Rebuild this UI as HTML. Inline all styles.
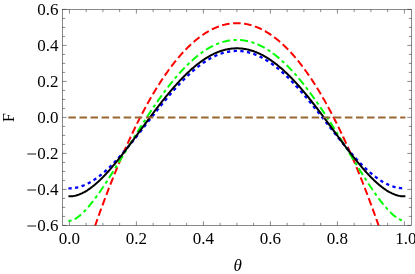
<!DOCTYPE html>
<html><head><meta charset="utf-8"><title>plot</title>
<style>html,body{margin:0;padding:0;background:#fff;}body{width:415px;height:274px;position:relative;overflow:hidden;font-family:"Liberation Serif",serif;}</style>
</head><body>
<svg width="415" height="274" viewBox="0 0 415 274" style="position:absolute;left:0;top:0">
<defs><filter id="tb" x="-5%" y="-5%" width="110%" height="110%"><feGaussianBlur stdDeviation="0.30"/></filter><filter id="lb" x="-5%" y="-5%" width="110%" height="110%"><feGaussianBlur stdDeviation="0.30"/></filter></defs>
<defs><clipPath id="c"><rect x="62.45" y="9.40" width="349.05" height="216.10"/></clipPath></defs>
<g filter="url(#lb)"><g clip-path="url(#c)" fill="none">
<path d="M94.94,226.24 L95.02,226.01 L95.87,223.61 L96.71,221.22 L97.47,219.07 M98.65,215.77 L98.73,215.55 L99.57,213.21 L100.41,210.88 L101.24,208.63 M102.44,205.34 L102.52,205.13 L103.36,202.86 L104.21,200.60 L105.05,198.35 L105.10,198.22 M106.34,194.95 L106.40,194.79 L107.24,192.58 L108.08,190.38 L108.92,188.20 L109.06,187.85 M110.33,184.59 L110.36,184.53 L111.20,182.39 L112.04,180.26 L112.88,178.15 L113.13,177.53 M114.44,174.28 L114.48,174.17 L115.33,172.10 L116.17,170.04 L117.01,168.00 L117.32,167.25 M118.67,164.02 L118.70,163.96 L119.54,161.96 L120.38,159.97 L121.22,158.00 L121.64,157.02 M123.03,153.81 L123.08,153.71 L123.92,151.79 L124.76,149.88 L125.61,147.98 L126.11,146.86 M127.54,143.67 L127.63,143.48 L128.47,141.64 L129.31,139.80 L130.16,137.98 L130.72,136.77 M132.21,133.60 L132.26,133.50 L133.10,131.73 L133.95,129.97 L134.79,128.23 L135.51,126.75 M137.06,123.61 L137.06,123.60 L137.91,121.91 L138.75,120.24 L139.59,118.58 L140.43,116.93 L140.49,116.83 M142.10,113.72 L142.12,113.69 L142.96,112.08 L143.80,110.50 L144.65,108.92 L145.49,107.36 L145.68,107.02 M147.36,103.95 L147.43,103.83 L148.27,102.32 L149.11,100.82 L149.95,99.34 L150.80,97.87 L151.10,97.34 M152.87,94.31 L152.90,94.26 L153.75,92.84 L154.59,91.43 L155.43,90.04 L156.27,88.67 L156.80,87.81 M158.66,84.84 L158.72,84.75 L159.56,83.43 L160.40,82.13 L161.24,80.84 L162.09,79.56 L162.81,78.48 M164.77,75.58 L164.78,75.57 L165.62,74.35 L166.47,73.15 L167.31,71.96 L168.15,70.78 L168.99,69.62 L169.17,69.38 M171.26,66.57 L171.27,66.56 L172.11,65.45 L172.95,64.36 L173.80,63.28 L174.64,62.22 L175.48,61.17 L175.95,60.59 M178.18,57.90 L178.26,57.80 L179.10,56.82 L179.95,55.84 L180.79,54.88 L181.63,53.94 L182.47,53.00 L183.21,52.20 M185.61,49.66 L185.68,49.60 L186.52,48.73 L187.36,47.88 L188.20,47.05 L189.05,46.23 L189.89,45.42 L190.73,44.63 L191.04,44.34 M193.65,42.00 L193.68,41.98 L194.52,41.25 L195.36,40.54 L196.21,39.84 L197.05,39.16 L197.89,38.49 L198.73,37.83 L199.55,37.21 M202.38,35.16 L202.44,35.12 L203.28,34.54 L204.13,33.98 L204.97,33.43 L205.81,32.89 L206.65,32.37 L207.50,31.86 L208.34,31.37 L208.81,31.11 M211.89,29.46 L211.96,29.42 L212.80,29.00 L213.65,28.60 L214.49,28.21 L215.33,27.84 L216.17,27.48 L217.02,27.14 L217.86,26.81 L218.70,26.49 L218.86,26.43 M222.18,25.34 L222.24,25.32 L223.08,25.08 L223.93,24.85 L224.77,24.64 L225.61,24.44 L226.45,24.25 L227.30,24.08 L228.14,23.93 L228.98,23.78 L229.60,23.69 M233.07,23.30 L233.11,23.30 L233.95,23.24 L234.79,23.20 L235.64,23.17 L236.48,23.15 L237.32,23.15 L238.16,23.17 L239.01,23.20 L239.85,23.24 L240.67,23.30 M244.14,23.68 L244.15,23.68 L244.99,23.81 L245.83,23.96 L246.67,24.11 L247.52,24.29 L248.36,24.48 L249.20,24.68 L250.04,24.89 L250.89,25.12 L251.56,25.32 M254.88,26.41 L254.93,26.43 L255.77,26.74 L256.61,27.07 L257.46,27.41 L258.30,27.77 L259.14,28.14 L259.98,28.52 L260.83,28.92 L261.67,29.34 L261.85,29.43 M264.94,31.08 L264.96,31.08 L265.80,31.57 L266.64,32.07 L267.48,32.58 L268.33,33.10 L269.17,33.65 L270.01,34.20 L270.85,34.77 L271.37,35.13 M274.21,37.18 L274.22,37.19 L275.07,37.83 L275.91,38.49 L276.75,39.16 L277.59,39.84 L278.44,40.54 L279.28,41.25 L280.11,41.96 M282.71,44.30 L282.73,44.32 L283.57,45.11 L284.42,45.91 L285.26,46.72 L286.10,47.55 L286.94,48.39 L287.79,49.25 L288.14,49.62 M290.55,52.16 L290.57,52.18 L291.41,53.10 L292.25,54.03 L293.09,54.98 L293.94,55.94 L294.78,56.91 L295.58,57.85 M297.81,60.55 L297.90,60.65 L298.74,61.69 L299.58,62.75 L300.42,63.82 L301.27,64.91 L302.11,66.01 L302.50,66.53 M304.59,69.33 L304.64,69.39 L305.48,70.55 L306.32,71.72 L307.16,72.91 L308.01,74.11 L308.85,75.32 L308.99,75.53 M310.96,78.43 L311.04,78.55 L311.88,79.81 L312.72,81.09 L313.57,82.39 L314.41,83.70 L315.11,84.79 M316.97,87.76 L317.02,87.85 L317.86,89.21 L318.71,90.60 L319.55,91.99 L320.39,93.40 L320.90,94.26 M322.67,97.28 L322.75,97.43 L323.59,98.89 L324.44,100.37 L325.28,101.87 L326.12,103.37 L326.41,103.90 M328.10,106.97 L328.14,107.05 L328.99,108.61 L329.83,110.18 L330.67,111.76 L331.51,113.36 L331.67,113.67 M333.29,116.78 L333.37,116.93 L334.21,118.58 L335.05,120.24 L335.89,121.91 L336.72,123.56 M338.26,126.70 L338.34,126.85 L339.18,128.58 L340.02,130.32 L340.86,132.08 L341.56,133.54 M343.05,136.71 L343.05,136.72 L343.90,138.53 L344.74,140.35 L345.58,142.19 L346.23,143.61 M347.67,146.81 L347.69,146.85 L348.53,148.74 L349.37,150.64 L350.22,152.56 L350.74,153.76 M352.13,156.97 L352.15,157.02 L353.00,158.98 L353.84,160.96 L354.68,162.96 L355.11,163.96 M356.45,167.19 L356.53,167.39 L357.38,169.43 L358.22,171.48 L359.06,173.55 L359.34,174.23 M360.65,177.47 L360.66,177.52 L361.51,179.63 L362.35,181.75 L363.19,183.89 L363.45,184.54 M364.72,187.80 L364.79,187.99 L365.63,190.16 L366.48,192.36 L367.32,194.57 L367.44,194.89 M368.68,198.17 L368.75,198.35 L369.59,200.60 L370.44,202.86 L371.28,205.13 L371.34,205.29 M372.54,208.57 L372.63,208.80 L373.47,211.11 L374.31,213.44 L375.13,215.72 M376.31,219.01 L376.33,219.08 L377.18,221.46 L378.02,223.85 L378.84,226.18" stroke="#ff0000" stroke-width="2.00"/>
<path d="M68.40,220.63 L68.48,220.64 L69.33,220.71 L70.17,220.66 L71.01,220.51 L71.56,220.38 M74.70,219.09 L74.72,219.08 L75.56,218.61 L76.40,218.09 L77.25,217.53 L78.09,216.93 L78.93,216.28 L79.77,215.61 L80.62,214.89 L81.17,214.41 M83.63,212.07 L83.65,212.05 L84.49,211.20 L85.33,210.31 L85.85,209.76 M88.11,207.22 L88.11,207.22 L88.96,206.23 L89.80,205.22 L90.64,204.19 L91.48,203.14 L92.33,202.07 L93.15,201.01 M95.20,198.30 L95.28,198.19 L96.12,197.05 L96.96,195.89 L97.09,195.71 M99.06,192.94 L99.07,192.92 L99.91,191.72 L100.75,190.50 L101.59,189.26 L102.44,188.02 L103.28,186.77 L103.57,186.33 M105.44,183.50 L105.47,183.46 L106.31,182.17 L107.16,180.88 L107.19,180.82 M109.03,177.96 L109.09,177.86 L109.94,176.54 L110.78,175.22 L111.62,173.88 L112.46,172.55 L113.31,171.20 L113.31,171.20 M115.11,168.31 L115.16,168.23 L116.00,166.87 L116.79,165.59 M118.58,162.70 L118.61,162.64 L119.46,161.27 L120.30,159.90 L121.14,158.53 L121.98,157.15 L122.76,155.88 M124.53,152.98 L124.59,152.88 L125.44,151.50 L126.20,150.25 M127.98,147.35 L128.05,147.23 L128.89,145.86 L129.73,144.48 L130.58,143.11 L131.42,141.74 L132.16,140.53 M133.95,137.64 L133.95,137.63 L134.79,136.27 L135.63,134.91 M137.43,132.03 L137.49,131.93 L138.33,130.59 L139.17,129.24 L140.01,127.90 L140.86,126.57 L141.69,125.26 M143.51,122.39 L143.55,122.33 L144.39,121.01 L145.24,119.70 L145.24,119.70 M147.09,116.84 L147.17,116.72 L148.02,115.43 L148.86,114.14 L149.70,112.87 L150.54,111.60 L151.39,110.33 L151.50,110.17 M153.40,107.35 L153.41,107.33 L154.25,106.10 L155.09,104.87 L155.20,104.70 M157.14,101.91 L157.20,101.82 L158.04,100.62 L158.88,99.43 L159.73,98.24 L160.57,97.07 L161.41,95.90 L161.78,95.39 M163.79,92.65 L163.86,92.56 L164.70,91.43 L165.54,90.31 L165.71,90.09 M167.77,87.39 L167.81,87.33 L168.66,86.24 L169.50,85.17 L170.34,84.10 L171.19,83.05 L172.03,82.00 L172.74,81.12 M174.91,78.50 L174.98,78.43 L175.82,77.43 L176.66,76.45 L176.99,76.07 M179.23,73.51 L179.27,73.47 L180.12,72.53 L180.96,71.60 L181.80,70.69 L182.64,69.79 L183.49,68.90 L184.33,68.02 L184.68,67.65 M187.07,65.24 L187.11,65.20 L187.95,64.38 L188.79,63.57 L189.37,63.01 M191.87,60.71 L191.91,60.67 L192.75,59.91 L193.60,59.17 L194.44,58.45 L195.28,57.73 L196.12,57.03 L196.97,56.34 L197.81,55.67 L197.97,55.54 M200.68,53.47 L200.76,53.42 L201.60,52.80 L202.44,52.20 L203.28,51.62 M206.12,49.75 L206.15,49.73 L206.99,49.20 L207.83,48.69 L208.68,48.19 L209.52,47.71 L210.36,47.24 L211.20,46.79 L212.05,46.35 L212.89,45.92 L213.09,45.82 M216.17,44.40 L216.26,44.36 L217.10,44.01 L217.94,43.67 L218.79,43.34 L219.15,43.21 M222.37,42.13 L222.41,42.11 L223.25,41.87 L224.09,41.63 L224.94,41.42 L225.78,41.21 L226.62,41.02 L227.46,40.85 L228.31,40.69 L229.15,40.55 L229.99,40.42 L230.17,40.39 M233.55,40.04 L233.61,40.03 L234.46,39.98 L235.30,39.94 L236.14,39.92 L236.75,39.92 M240.14,40.03 L240.19,40.03 L241.03,40.10 L241.87,40.18 L242.71,40.27 L243.56,40.38 L244.40,40.51 L245.24,40.65 L246.08,40.80 L246.93,40.97 L247.77,41.15 L248.05,41.22 M251.33,42.10 L251.39,42.11 L252.23,42.38 L253.08,42.65 L253.92,42.94 L254.37,43.10 M257.53,44.36 L257.54,44.36 L258.38,44.73 L259.23,45.11 L260.07,45.51 L260.91,45.92 L261.75,46.35 L262.60,46.79 L263.44,47.24 L264.28,47.71 L264.68,47.94 M267.59,49.69 L267.65,49.73 L268.49,50.27 L269.34,50.82 L270.18,51.39 L270.27,51.44 M273.04,53.41 L273.04,53.42 L273.89,54.04 L274.73,54.68 L275.57,55.34 L276.41,56.00 L277.26,56.69 L278.10,57.38 L278.94,58.09 L279.30,58.39 M281.85,60.63 L281.89,60.67 L282.73,61.43 L283.57,62.21 L284.21,62.80 M286.65,65.16 L286.69,65.20 L287.53,66.04 L288.38,66.89 L289.22,67.76 L290.06,68.63 L290.90,69.52 L291.75,70.42 L292.21,70.92 M294.50,73.43 L294.53,73.47 L295.37,74.42 L296.21,75.38 L296.61,75.84 M298.82,78.42 L298.82,78.43 L299.67,79.44 L300.51,80.45 L301.35,81.48 L302.19,82.52 L303.04,83.57 L303.87,84.62 M305.96,87.30 L305.98,87.33 L306.83,88.42 L307.67,89.53 L307.91,89.84 M309.95,92.57 L310.03,92.68 L310.87,93.82 L311.71,94.97 L312.56,96.13 L313.40,97.30 L314.24,98.48 L314.64,99.04 M316.60,101.82 L316.60,101.82 L317.44,103.04 L318.29,104.25 L318.42,104.45 M320.34,107.26 L320.39,107.33 L321.23,108.58 L322.08,109.83 L322.92,111.09 L323.76,112.36 L324.60,113.63 L324.79,113.91 M326.65,116.75 L326.71,116.84 L327.55,118.14 L328.39,119.44 M330.23,122.30 L330.25,122.33 L331.09,123.65 L331.93,124.97 L332.78,126.30 L333.62,127.63 L334.46,128.97 L334.51,129.06 M336.32,131.94 L336.40,132.07 L337.24,133.42 L338.01,134.65 M339.80,137.54 L339.85,137.63 L340.70,139.00 L341.54,140.37 L342.38,141.74 L343.22,143.11 L343.99,144.36 M345.77,147.26 L345.84,147.37 L346.68,148.75 L347.44,149.99 M349.21,152.89 L349.29,153.02 L350.13,154.40 L350.97,155.77 L351.82,157.15 L352.66,158.53 L353.39,159.71 M355.17,162.61 L355.19,162.64 L356.03,164.01 L356.85,165.33 M358.64,168.22 L358.64,168.23 L359.48,169.58 L360.33,170.93 L361.17,172.28 L362.01,173.62 L362.85,174.95 L362.89,175.00 M364.71,177.87 L364.79,178.00 L365.63,179.31 L366.44,180.56 M368.30,183.41 L368.33,183.46 L369.17,184.74 L370.01,186.01 L370.86,187.27 L371.70,188.52 L372.54,189.76 L372.75,190.06 M374.68,192.85 L374.73,192.92 L375.58,194.12 L376.42,195.30 L376.53,195.46 M378.54,198.21 L378.61,198.31 L379.45,199.44 L380.29,200.55 L381.14,201.64 L381.98,202.72 L382.82,203.78 L383.44,204.53 M385.62,207.14 L385.69,207.22 L386.53,208.19 L387.37,209.13 L387.74,209.53 M390.09,211.99 L390.15,212.05 L390.99,212.88 L391.84,213.68 L392.68,214.45 L393.52,215.18 L394.36,215.88 L395.21,216.55 L396.05,217.17 L396.13,217.23 M399.00,219.04 L399.08,219.08 L399.92,219.50 L400.77,219.87 L401.61,220.19 L401.94,220.29" stroke="#00ff00" stroke-width="2.00"/>
<path d="M68.40,188.30 L68.48,188.31 L69.33,188.32 L70.17,188.31 L71.01,188.28 L71.70,188.24 M75.07,187.85 L75.14,187.84 L75.98,187.69 L76.83,187.52 L77.67,187.34 L78.30,187.18 M81.56,186.21 L81.63,186.18 L82.47,185.88 L83.31,185.56 L84.15,185.23 L84.64,185.02 M87.72,183.59 L87.78,183.56 L88.62,183.13 L89.46,182.67 L90.31,182.20 L90.62,182.02 M93.53,180.24 L93.59,180.20 L94.43,179.65 L95.28,179.08 L96.12,178.49 L96.26,178.40 M98.99,176.38 L99.07,176.32 L99.91,175.66 L100.75,174.99 L101.58,174.32 M104.17,172.13 L104.21,172.10 L105.05,171.36 L105.89,170.60 L106.63,169.93 M109.11,167.60 L109.18,167.54 L110.02,166.72 L110.86,165.89 L111.47,165.29 M113.85,162.87 L113.90,162.82 L114.74,161.94 L115.58,161.06 L116.13,160.48 M118.43,157.98 L118.44,157.96 L119.29,157.03 L120.13,156.09 L120.64,155.52 M122.88,152.97 L122.91,152.93 L123.75,151.96 L124.59,150.98 L125.03,150.47 M127.23,147.87 L127.29,147.80 L128.13,146.79 L128.98,145.77 L129.34,145.33 M131.50,142.70 L131.50,142.70 L132.35,141.66 L133.19,140.62 L133.57,140.14 M135.70,137.49 L135.72,137.48 L136.56,136.42 L137.40,135.36 L137.76,134.91 M139.87,132.24 L139.93,132.17 L140.77,131.10 L141.61,130.03 L141.91,129.65 M144.01,126.98 L144.06,126.92 L144.90,125.84 L145.74,124.77 L146.05,124.38 M148.14,121.70 L148.18,121.65 L149.03,120.57 L149.87,119.50 L150.18,119.10 M152.28,116.43 L152.31,116.39 L153.16,115.32 L154.00,114.25 L154.32,113.84 M156.43,111.17 L156.44,111.16 L157.28,110.11 L158.13,109.05 L158.49,108.60 M160.62,105.95 L160.65,105.91 L161.50,104.87 L162.34,103.83 L162.70,103.39 M164.86,100.76 L164.87,100.75 L165.71,99.74 L166.55,98.73 L166.97,98.22 M169.17,95.63 L169.25,95.53 L170.09,94.55 L170.93,93.57 L171.32,93.12 M173.56,90.56 L173.63,90.48 L174.47,89.53 L175.31,88.59 L175.75,88.10 M178.05,85.59 L178.09,85.54 L178.94,84.63 L179.78,83.73 L180.30,83.18 M182.66,80.73 L182.73,80.66 L183.57,79.81 L184.41,78.96 L184.98,78.39 M187.42,76.02 L187.45,75.99 L188.29,75.19 L189.13,74.40 L189.83,73.76 M192.35,71.48 L192.42,71.43 L193.26,70.69 L194.10,69.97 L194.85,69.33 M197.48,67.18 L197.56,67.12 L198.40,66.46 L199.24,65.81 L200.08,65.17 L200.10,65.16 M202.85,63.16 L202.86,63.15 L203.71,62.57 L204.55,62.00 L205.39,61.44 L205.58,61.32 M208.47,59.52 L208.51,59.50 L209.35,59.01 L210.19,58.53 L211.04,58.06 L211.34,57.90 M214.37,56.36 L214.41,56.34 L215.25,55.95 L216.09,55.57 L216.93,55.20 L217.38,55.01 M220.56,53.79 L220.64,53.77 L221.48,53.48 L222.32,53.21 L223.17,52.95 L223.70,52.80 M227.00,51.97 L227.04,51.97 L227.89,51.79 L228.73,51.64 L229.57,51.50 L230.25,51.39 M233.63,51.03 L233.70,51.03 L234.54,50.98 L235.38,50.94 L236.23,50.92 L236.93,50.92 M240.32,51.04 L240.35,51.04 L241.20,51.12 L242.04,51.20 L242.88,51.30 L243.60,51.40 M246.95,52.01 L247.01,52.02 L247.85,52.21 L248.69,52.42 L249.54,52.64 L250.15,52.81 M253.39,53.85 L253.41,53.85 L254.26,54.16 L255.10,54.48 L255.94,54.81 L256.47,55.03 M259.57,56.42 L259.65,56.46 L260.49,56.87 L261.33,57.30 L262.17,57.74 L262.51,57.92 M265.46,59.60 L265.54,59.65 L266.39,60.16 L267.23,60.69 L268.07,61.22 L268.26,61.35 M271.08,63.25 L271.11,63.27 L271.95,63.87 L272.79,64.48 L273.63,65.11 L273.75,65.19 M276.44,67.27 L276.50,67.32 L277.34,68.00 L278.18,68.69 L278.99,69.37 M281.56,71.59 L281.64,71.65 L282.48,72.40 L283.32,73.16 L284.02,73.80 M286.49,76.12 L286.52,76.15 L287.37,76.97 L288.21,77.79 L288.86,78.43 M291.25,80.84 L291.33,80.92 L292.17,81.79 L293.01,82.67 L293.54,83.22 M295.86,85.70 L295.87,85.72 L296.72,86.64 L297.56,87.56 L298.08,88.14 M300.35,90.68 L300.42,90.77 L301.27,91.73 L302.11,92.69 L302.52,93.16 M304.73,95.74 L304.81,95.83 L305.65,96.82 L306.49,97.82 L306.86,98.27 M309.04,100.88 L309.10,100.96 L309.94,101.98 L310.79,103.01 L311.13,103.43 M313.28,106.07 L313.31,106.12 L314.16,107.16 L315.00,108.21 L315.34,108.64 M317.46,111.30 L317.53,111.38 L318.37,112.44 L319.21,113.50 L319.51,113.88 M321.62,116.55 L321.66,116.60 L322.50,117.67 L323.34,118.74 L323.66,119.15 M325.75,121.82 L325.78,121.86 L326.63,122.94 L327.47,124.01 L327.79,124.42 M329.89,127.10 L329.91,127.13 L330.75,128.21 L331.60,129.28 L331.92,129.69 M334.03,132.37 L334.04,132.38 L334.88,133.45 L335.73,134.51 L336.08,134.95 M338.19,137.61 L338.25,137.69 L339.10,138.74 L339.94,139.79 L340.26,140.19 M342.40,142.83 L342.47,142.90 L343.31,143.93 L344.15,144.96 L344.50,145.38 M346.67,147.99 L346.68,148.00 L347.52,149.00 L348.36,149.99 L348.80,150.51 M351.02,153.09 L351.06,153.13 L351.90,154.09 L352.74,155.05 L353.20,155.56 M355.47,158.09 L355.52,158.15 L356.37,159.07 L357.21,159.98 L357.71,160.52 M360.06,162.98 L360.07,163.00 L360.92,163.86 L361.76,164.72 L362.37,165.33 M364.80,167.71 L364.88,167.78 L365.72,168.58 L366.56,169.37 L367.21,169.97 M369.74,172.23 L369.76,172.25 L370.60,172.97 L371.45,173.68 L372.27,174.36 M374.93,176.47 L374.99,176.51 L375.83,177.15 L376.67,177.77 L377.51,178.37 L377.59,178.43 M380.41,180.33 L380.46,180.37 L381.30,180.90 L382.15,181.41 L382.99,181.91 L383.22,182.05 M386.22,183.66 L386.28,183.69 L387.12,184.10 L387.96,184.49 L388.80,184.87 L389.21,185.04 M392.39,186.26 L392.43,186.27 L393.27,186.55 L394.11,186.80 L394.95,187.04 L395.55,187.19 M398.88,187.88 L398.91,187.88 L399.76,188.01 L400.60,188.11 L401.44,188.19 L402.16,188.24" stroke="#0000ff" stroke-width="2.30"/>
<path d="M68.40,196.34 L69.24,196.36 L70.09,196.35 L70.93,196.31 L71.77,196.24 L72.61,196.14 L73.45,196.02 L74.30,195.87 L75.14,195.69 L75.98,195.48 L76.83,195.24 L77.67,194.98 L78.51,194.70 L79.35,194.39 L80.20,194.05 L81.04,193.69 L81.88,193.31 L82.72,192.90 L83.56,192.47 L84.41,192.02 L85.25,191.54 L86.09,191.05 L86.94,190.53 L87.78,189.99 L88.62,189.43 L89.46,188.85 L90.31,188.25 L91.15,187.63 L91.99,186.99 L92.83,186.33 L93.67,185.66 L94.52,184.96 L95.36,184.25 L96.20,183.52 L97.05,182.78 L97.89,182.02 L98.73,181.24 L99.57,180.45 L100.41,179.64 L101.26,178.82 L102.10,177.98 L102.94,177.13 L103.78,176.26 L104.63,175.38 L105.47,174.49 L106.31,173.59 L107.16,172.67 L108.00,171.74 L108.84,170.80 L109.68,169.85 L110.53,168.89 L111.37,167.91 L112.21,166.93 L113.05,165.94 L113.90,164.93 L114.74,163.92 L115.58,162.90 L116.42,161.87 L117.26,160.83 L118.11,159.79 L118.95,158.73 L119.79,157.67 L120.63,156.60 L121.48,155.53 L122.32,154.45 L123.16,153.36 L124.00,152.27 L124.85,151.17 L125.69,150.07 L126.53,148.96 L127.38,147.84 L128.22,146.73 L129.06,145.61 L129.90,144.48 L130.75,143.35 L131.59,142.22 L132.43,141.09 L133.27,139.95 L134.12,138.81 L134.96,137.67 L135.80,136.53 L136.64,135.39 L137.49,134.24 L138.33,133.10 L139.17,131.95 L140.01,130.81 L140.85,129.66 L141.70,128.51 L142.54,127.37 L143.38,126.22 L144.22,125.08 L145.07,123.94 L145.91,122.79 L146.75,121.65 L147.59,120.52 L148.44,119.38 L149.28,118.25 L150.12,117.12 L150.96,115.99 L151.81,114.87 L152.65,113.75 L153.49,112.63 L154.34,111.51 L155.18,110.41 L156.02,109.30 L156.86,108.20 L157.70,107.10 L158.55,106.01 L159.39,104.93 L160.23,103.85 L161.07,102.77 L161.92,101.70 L162.76,100.64 L163.60,99.58 L164.44,98.53 L165.29,97.49 L166.13,96.45 L166.97,95.42 L167.81,94.40 L168.66,93.38 L169.50,92.37 L170.34,91.37 L171.19,90.38 L172.03,89.40 L172.87,88.42 L173.71,87.45 L174.56,86.49 L175.40,85.54 L176.24,84.60 L177.08,83.67 L177.93,82.74 L178.77,81.83 L179.61,80.92 L180.45,80.03 L181.30,79.14 L182.14,78.27 L182.98,77.41 L183.82,76.55 L184.67,75.71 L185.51,74.87 L186.35,74.05 L187.19,73.24 L188.03,72.44 L188.88,71.65 L189.72,70.87 L190.56,70.11 L191.40,69.35 L192.25,68.61 L193.09,67.88 L193.93,67.16 L194.77,66.45 L195.62,65.75 L196.46,65.07 L197.30,64.40 L198.15,63.74 L198.99,63.09 L199.83,62.46 L200.67,61.84 L201.51,61.23 L202.36,60.64 L203.20,60.06 L204.04,59.49 L204.88,58.93 L205.73,58.39 L206.57,57.86 L207.41,57.35 L208.25,56.85 L209.10,56.36 L209.94,55.88 L210.78,55.42 L211.62,54.98 L212.47,54.55 L213.31,54.13 L214.15,53.72 L214.99,53.33 L215.84,52.96 L216.68,52.60 L217.52,52.25 L218.36,51.92 L219.21,51.60 L220.05,51.29 L220.89,51.00 L221.73,50.73 L222.58,50.47 L223.42,50.22 L224.26,49.99 L225.10,49.78 L225.95,49.58 L226.79,49.39 L227.63,49.22 L228.47,49.06 L229.32,48.92 L230.16,48.79 L231.00,48.68 L231.84,48.58 L232.69,48.50 L233.53,48.43 L234.37,48.38 L235.21,48.34 L236.06,48.32 L236.90,48.31 L237.74,48.32 L238.58,48.34 L239.43,48.38 L240.27,48.43 L241.11,48.50 L241.95,48.58 L242.80,48.68 L243.64,48.79 L244.48,48.92 L245.32,49.06 L246.17,49.22 L247.01,49.39 L247.85,49.58 L248.69,49.78 L249.54,49.99 L250.38,50.22 L251.22,50.47 L252.06,50.73 L252.91,51.00 L253.75,51.29 L254.59,51.60 L255.43,51.92 L256.28,52.25 L257.12,52.60 L257.96,52.96 L258.80,53.33 L259.65,53.72 L260.49,54.13 L261.33,54.55 L262.17,54.98 L263.02,55.42 L263.86,55.88 L264.70,56.36 L265.54,56.85 L266.39,57.35 L267.23,57.86 L268.07,58.39 L268.91,58.93 L269.76,59.49 L270.60,60.06 L271.44,60.64 L272.28,61.23 L273.13,61.84 L273.97,62.46 L274.81,63.09 L275.65,63.74 L276.50,64.40 L277.34,65.07 L278.18,65.75 L279.02,66.45 L279.87,67.16 L280.71,67.88 L281.55,68.61 L282.39,69.35 L283.24,70.11 L284.08,70.87 L284.92,71.65 L285.76,72.44 L286.61,73.24 L287.45,74.05 L288.29,74.87 L289.13,75.71 L289.98,76.55 L290.82,77.41 L291.66,78.27 L292.50,79.14 L293.35,80.03 L294.19,80.92 L295.03,81.83 L295.87,82.74 L296.72,83.67 L297.56,84.60 L298.40,85.54 L299.24,86.49 L300.09,87.45 L300.93,88.42 L301.77,89.40 L302.61,90.38 L303.46,91.37 L304.30,92.37 L305.14,93.38 L305.98,94.40 L306.83,95.42 L307.67,96.45 L308.51,97.49 L309.35,98.53 L310.20,99.58 L311.04,100.64 L311.88,101.70 L312.72,102.77 L313.57,103.85 L314.41,104.93 L315.25,106.01 L316.09,107.10 L316.94,108.20 L317.78,109.30 L318.62,110.41 L319.46,111.51 L320.31,112.63 L321.15,113.75 L321.99,114.87 L322.83,115.99 L323.68,117.12 L324.52,118.25 L325.36,119.38 L326.20,120.52 L327.05,121.65 L327.89,122.79 L328.73,123.94 L329.57,125.08 L330.42,126.22 L331.26,127.37 L332.10,128.51 L332.94,129.66 L333.79,130.81 L334.63,131.95 L335.47,133.10 L336.31,134.24 L337.16,135.39 L338.00,136.53 L338.84,137.67 L339.68,138.81 L340.53,139.95 L341.37,141.09 L342.21,142.22 L343.05,143.35 L343.90,144.48 L344.74,145.61 L345.58,146.73 L346.42,147.84 L347.27,148.96 L348.11,150.07 L348.95,151.17 L349.79,152.27 L350.64,153.36 L351.48,154.45 L352.32,155.53 L353.16,156.60 L354.01,157.67 L354.85,158.73 L355.69,159.79 L356.53,160.83 L357.38,161.87 L358.22,162.90 L359.06,163.92 L359.90,164.93 L360.75,165.94 L361.59,166.93 L362.43,167.91 L363.27,168.89 L364.12,169.85 L364.96,170.80 L365.80,171.74 L366.64,172.67 L367.49,173.59 L368.33,174.49 L369.17,175.38 L370.01,176.26 L370.86,177.13 L371.70,177.98 L372.54,178.82 L373.38,179.64 L374.23,180.45 L375.07,181.24 L375.91,182.02 L376.75,182.78 L377.60,183.52 L378.44,184.25 L379.28,184.96 L380.12,185.66 L380.97,186.33 L381.81,186.99 L382.65,187.63 L383.49,188.25 L384.34,188.85 L385.18,189.43 L386.02,189.99 L386.86,190.53 L387.71,191.05 L388.55,191.54 L389.39,192.02 L390.23,192.47 L391.08,192.90 L391.92,193.31 L392.76,193.69 L393.60,194.05 L394.45,194.39 L395.29,194.70 L396.13,194.98 L396.97,195.24 L397.82,195.48 L398.66,195.69 L399.50,195.87 L400.34,196.02 L401.19,196.14 L402.03,196.24 L402.87,196.31 L403.71,196.35 L404.56,196.36 L405.40,196.34" stroke="#000000" stroke-width="2.00"/>
<path d="M68.40,117.40 L68.48,117.40 L69.33,117.40 L70.17,117.40 L71.01,117.40 L71.85,117.40 L72.70,117.40 L73.54,117.40 L74.38,117.40 L75.22,117.40 L75.90,117.40 M79.46,117.40 L79.52,117.40 L80.36,117.40 L81.21,117.40 L82.05,117.40 L82.89,117.40 L83.73,117.40 L84.58,117.40 L85.42,117.40 L86.26,117.40 L86.96,117.40 M90.52,117.40 L90.56,117.40 L91.40,117.40 L92.24,117.40 L93.09,117.40 L93.93,117.40 L94.77,117.40 L95.61,117.40 L96.46,117.40 L97.30,117.40 L98.02,117.40 M101.58,117.40 L101.59,117.40 L102.44,117.40 L103.28,117.40 L104.12,117.40 L104.96,117.40 L105.81,117.40 L106.65,117.40 L107.49,117.40 L108.33,117.40 L109.08,117.40 M112.64,117.40 L112.72,117.40 L113.56,117.40 L114.40,117.40 L115.24,117.40 L116.09,117.40 L116.93,117.40 L117.77,117.40 L118.61,117.40 L119.46,117.40 L120.14,117.40 M123.70,117.40 L123.75,117.40 L124.59,117.40 L125.44,117.40 L126.28,117.40 L127.12,117.40 L127.96,117.40 L128.81,117.40 L129.65,117.40 L130.49,117.40 L131.20,117.40 M134.76,117.40 L134.79,117.40 L135.63,117.40 L136.47,117.40 L137.32,117.40 L138.16,117.40 L139.00,117.40 L139.84,117.40 L140.69,117.40 L141.53,117.40 L142.26,117.40 M145.82,117.40 L145.83,117.40 L146.67,117.40 L147.51,117.40 L148.35,117.40 L149.20,117.40 L150.04,117.40 L150.88,117.40 L151.72,117.40 L152.57,117.40 L153.32,117.40 M156.88,117.40 L156.95,117.40 L157.79,117.40 L158.63,117.40 L159.47,117.40 L160.32,117.40 L161.16,117.40 L162.00,117.40 L162.84,117.40 L163.69,117.40 L164.38,117.40 M167.94,117.40 L167.98,117.40 L168.83,117.40 L169.67,117.40 L170.51,117.40 L171.35,117.40 L172.20,117.40 L173.04,117.40 L173.88,117.40 L174.72,117.40 L175.44,117.40 M179.00,117.40 L179.02,117.40 L179.86,117.40 L180.71,117.40 L181.55,117.40 L182.39,117.40 L183.23,117.40 L184.08,117.40 L184.92,117.40 L185.76,117.40 L186.50,117.40 M190.06,117.40 L190.14,117.40 L190.98,117.40 L191.83,117.40 L192.67,117.40 L193.51,117.40 L194.35,117.40 L195.20,117.40 L196.04,117.40 L196.88,117.40 L197.56,117.40 M201.12,117.40 L201.18,117.40 L202.02,117.40 L202.86,117.40 L203.71,117.40 L204.55,117.40 L205.39,117.40 L206.23,117.40 L207.08,117.40 L207.92,117.40 L208.62,117.40 M212.18,117.40 L212.21,117.40 L213.06,117.40 L213.90,117.40 L214.74,117.40 L215.58,117.40 L216.43,117.40 L217.27,117.40 L218.11,117.40 L218.95,117.40 L219.68,117.40 M223.24,117.40 L223.25,117.40 L224.09,117.40 L224.94,117.40 L225.78,117.40 L226.62,117.40 L227.46,117.40 L228.31,117.40 L229.15,117.40 L229.99,117.40 L230.74,117.40 M234.30,117.40 L234.37,117.40 L235.22,117.40 L236.06,117.40 L236.90,117.40 L237.74,117.40 L238.58,117.40 L239.43,117.40 L240.27,117.40 L241.11,117.40 L241.80,117.40 M245.36,117.40 L245.41,117.40 L246.25,117.40 L247.09,117.40 L247.94,117.40 L248.78,117.40 L249.62,117.40 L250.46,117.40 L251.31,117.40 L252.15,117.40 L252.86,117.40 M256.42,117.40 L256.45,117.40 L257.29,117.40 L258.13,117.40 L258.97,117.40 L259.82,117.40 L260.66,117.40 L261.50,117.40 L262.34,117.40 L263.19,117.40 L263.92,117.40 M267.48,117.40 L267.48,117.40 L268.33,117.40 L269.17,117.40 L270.01,117.40 L270.85,117.40 L271.70,117.40 L272.54,117.40 L273.38,117.40 L274.22,117.40 L274.98,117.40 M278.54,117.40 L278.60,117.40 L279.45,117.40 L280.29,117.40 L281.13,117.40 L281.97,117.40 L282.82,117.40 L283.66,117.40 L284.50,117.40 L285.34,117.40 L286.04,117.40 M289.60,117.40 L289.64,117.40 L290.48,117.40 L291.33,117.40 L292.17,117.40 L293.01,117.40 L293.85,117.40 L294.70,117.40 L295.54,117.40 L296.38,117.40 L297.10,117.40 M300.66,117.40 L300.68,117.40 L301.52,117.40 L302.36,117.40 L303.20,117.40 L304.05,117.40 L304.89,117.40 L305.73,117.40 L306.57,117.40 L307.42,117.40 L308.16,117.40 M311.72,117.40 L311.80,117.40 L312.64,117.40 L313.48,117.40 L314.33,117.40 L315.17,117.40 L316.01,117.40 L316.85,117.40 L317.70,117.40 L318.54,117.40 L319.22,117.40 M322.78,117.40 L322.83,117.40 L323.68,117.40 L324.52,117.40 L325.36,117.40 L326.20,117.40 L327.05,117.40 L327.89,117.40 L328.73,117.40 L329.57,117.40 L330.28,117.40 M333.84,117.40 L333.87,117.40 L334.71,117.40 L335.56,117.40 L336.40,117.40 L337.24,117.40 L338.08,117.40 L338.93,117.40 L339.77,117.40 L340.61,117.40 L341.34,117.40 M344.90,117.40 L344.91,117.40 L345.75,117.40 L346.59,117.40 L347.44,117.40 L348.28,117.40 L349.12,117.40 L349.96,117.40 L350.81,117.40 L351.65,117.40 L352.40,117.40 M355.96,117.40 L356.03,117.40 L356.87,117.40 L357.71,117.40 L358.56,117.40 L359.40,117.40 L360.24,117.40 L361.08,117.40 L361.93,117.40 L362.77,117.40 L363.46,117.40 M367.02,117.40 L367.07,117.40 L367.91,117.40 L368.75,117.40 L369.59,117.40 L370.44,117.40 L371.28,117.40 L372.12,117.40 L372.96,117.40 L373.81,117.40 L374.52,117.40 M378.08,117.40 L378.10,117.40 L378.95,117.40 L379.79,117.40 L380.63,117.40 L381.47,117.40 L382.32,117.40 L383.16,117.40 L384.00,117.40 L384.84,117.40 L385.58,117.40 M389.14,117.40 L389.22,117.40 L390.07,117.40 L390.91,117.40 L391.75,117.40 L392.59,117.40 L393.44,117.40 L394.28,117.40 L395.12,117.40 L395.96,117.40 L396.64,117.40 M400.20,117.40 L400.26,117.40 L401.10,117.40 L401.95,117.40 L402.79,117.40 L403.63,117.40 L404.47,117.40 L405.32,117.40 L405.40,117.40" stroke="#996633" stroke-width="2.00"/>
</g></g>
<g stroke="#2a2a2a" stroke-width="0.55" fill="none">
<rect x="62.45" y="9.40" width="349.05" height="216.10"/>
<path d="M69.40,225.50 v-4.20 M69.40,9.40 v4.20 M86.15,225.50 v-2.70 M86.15,9.40 v2.70 M102.90,225.50 v-2.70 M102.90,9.40 v2.70 M119.65,225.50 v-2.70 M119.65,9.40 v2.70 M136.40,225.50 v-4.20 M136.40,9.40 v4.20 M153.15,225.50 v-2.70 M153.15,9.40 v2.70 M169.90,225.50 v-2.70 M169.90,9.40 v2.70 M186.65,225.50 v-2.70 M186.65,9.40 v2.70 M203.40,225.50 v-4.20 M203.40,9.40 v4.20 M220.15,225.50 v-2.70 M220.15,9.40 v2.70 M236.90,225.50 v-2.70 M236.90,9.40 v2.70 M253.65,225.50 v-2.70 M253.65,9.40 v2.70 M270.40,225.50 v-4.20 M270.40,9.40 v4.20 M287.15,225.50 v-2.70 M287.15,9.40 v2.70 M303.90,225.50 v-2.70 M303.90,9.40 v2.70 M320.65,225.50 v-2.70 M320.65,9.40 v2.70 M337.40,225.50 v-4.20 M337.40,9.40 v4.20 M354.15,225.50 v-2.70 M354.15,9.40 v2.70 M370.90,225.50 v-2.70 M370.90,9.40 v2.70 M387.65,225.50 v-2.70 M387.65,9.40 v2.70 M404.40,225.50 v-4.20 M404.40,9.40 v4.20 M62.45,225.40 h4.20 M411.50,225.40 h-4.20 M62.45,216.40 h2.70 M411.50,216.40 h-2.70 M62.45,207.40 h2.70 M411.50,207.40 h-2.70 M62.45,198.40 h2.70 M411.50,198.40 h-2.70 M62.45,189.40 h4.20 M411.50,189.40 h-4.20 M62.45,180.40 h2.70 M411.50,180.40 h-2.70 M62.45,171.40 h2.70 M411.50,171.40 h-2.70 M62.45,162.40 h2.70 M411.50,162.40 h-2.70 M62.45,153.40 h4.20 M411.50,153.40 h-4.20 M62.45,144.40 h2.70 M411.50,144.40 h-2.70 M62.45,135.40 h2.70 M411.50,135.40 h-2.70 M62.45,126.40 h2.70 M411.50,126.40 h-2.70 M62.45,117.40 h4.20 M411.50,117.40 h-4.20 M62.45,108.40 h2.70 M411.50,108.40 h-2.70 M62.45,99.40 h2.70 M411.50,99.40 h-2.70 M62.45,90.40 h2.70 M411.50,90.40 h-2.70 M62.45,81.40 h4.20 M411.50,81.40 h-4.20 M62.45,72.40 h2.70 M411.50,72.40 h-2.70 M62.45,63.40 h2.70 M411.50,63.40 h-2.70 M62.45,54.40 h2.70 M411.50,54.40 h-2.70 M62.45,45.40 h4.20 M411.50,45.40 h-4.20 M62.45,36.40 h2.70 M411.50,36.40 h-2.70 M62.45,27.40 h2.70 M411.50,27.40 h-2.70 M62.45,18.40 h2.70 M411.50,18.40 h-2.70 M62.45,9.40 h4.20 M411.50,9.40 h-4.20"/>
</g>
<g font-family="Liberation Serif, serif" font-size="17.00" fill="#000" filter="url(#tb)">
<text x="69.40" y="244.30" text-anchor="middle">0.0</text>
<text x="136.40" y="244.30" text-anchor="middle">0.2</text>
<text x="203.40" y="244.30" text-anchor="middle">0.4</text>
<text x="270.40" y="244.30" text-anchor="middle">0.6</text>
<text x="337.40" y="244.30" text-anchor="middle">0.8</text>
<text x="405.90" y="244.30" text-anchor="middle">1.0</text>
<rect x="27.40" y="225.55" width="8.70" height="0.90"/>
<text x="58.50" y="231.00" text-anchor="end">0.6</text>
<rect x="27.40" y="189.55" width="8.70" height="0.90"/>
<text x="58.50" y="195.00" text-anchor="end">0.4</text>
<rect x="27.40" y="153.55" width="8.70" height="0.90"/>
<text x="58.50" y="159.00" text-anchor="end">0.2</text>
<text x="58.50" y="123.00" text-anchor="end">0.0</text>
<text x="58.50" y="87.00" text-anchor="end">0.2</text>
<text x="58.50" y="51.00" text-anchor="end">0.4</text>
<text x="58.50" y="15.00" text-anchor="end">0.6</text>
<text x="237.70" y="270.80" text-anchor="middle" font-style="italic" font-size="17.00">θ</text>
<text transform="translate(13.90,117.50) rotate(-90)" text-anchor="middle" font-size="16.00">F</text>
</g>
</svg>
</body></html>
